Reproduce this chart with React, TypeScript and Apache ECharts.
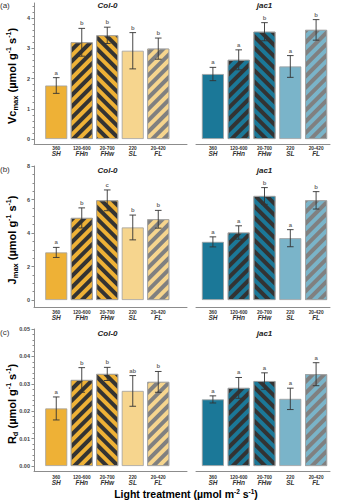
import React, { useEffect, useRef } from 'react';
import * as echarts from 'echarts';

// ---- data ----
const treatments = ['SH', 'FHn', 'FHw', 'SL', 'FL'];
const doses = ['360', '120-600', '20-700', '220', '20-420'];
const genotypes = ['Col-0', 'jac1'];

const vcmaxCol0 = [1.77, 3.2, 3.43, 2.92, 2.99];
const vcmaxCol0Err = [0.26, 0.46, 0.27, 0.6, 0.35];
const vcmaxCol0Sig = ['a', 'b', 'b', 'b', 'b'];
const vcmaxJac1 = [2.15, 2.62, 3.55, 2.4, 3.61];
const vcmaxJac1Err = [0.22, 0.33, 0.3, 0.36, 0.34];
const vcmaxJac1Sig = ['a', 'a', 'b', 'a', 'b'];

const jmaxCol0 = [2.84, 4.9, 5.95, 4.33, 4.82];
const jmaxCol0Err = [0.3, 0.6, 0.62, 0.74, 0.53];
const jmaxCol0Sig = ['a', 'b', 'c', 'b', 'b'];
const jmaxJac1 = [3.47, 4.03, 6.21, 3.69, 5.95];
const jmaxJac1Err = [0.3, 0.4, 0.5, 0.51, 0.52];
const jmaxJac1Sig = ['a', 'a', 'b', 'a', 'b'];

const rdCol0 = [0.021, 0.0314, 0.0336, 0.0274, 0.0307];
const rdCol0Err = [0.0042, 0.0045, 0.0024, 0.0056, 0.0038];
const rdCol0Sig = ['a', 'b', 'b', 'ab', 'b'];
const rdJac1 = [0.0243, 0.0285, 0.031, 0.0245, 0.0335];
const rdJac1Err = [0.0013, 0.0038, 0.003, 0.0039, 0.0042];
const rdJac1Sig = ['a', 'a', 'a', 'a', 'a'];

const vcmaxTicks = [0, 1, 2, 3, 4];
const jmaxTicks = [0, 2, 4, 6, 8];
const rdTicks = [0, 0.01, 0.02, 0.03, 0.04, 0.05];

const FONT = '"Liberation Sans", Arial, sans-serif';
const AXIS_COLOR = '#8c8c8c';
const DARK = '#333333';
const GRAY = '#808080';

const stripe = (color: string, dir: number) => ({
  symbol: 'rect',
  symbolSize: 1,
  color,
  dashArrayX: [1, 0],
  dashArrayY: [3.6, 3.6],
  rotation: (dir * Math.PI) / 4,
});

const palettes = [
  { solid: '#EEB136', light: '#F6D58E' },
  { solid: '#1B7898', light: '#7AB4C9' },
];

// dir -1 => "/" stripes, +1 => "\" stripes
const barStyles = (g: number) => {
  const p = palettes[g];
  return [
    { color: p.solid },
    { color: DARK, decal: stripe(p.solid, -1) },
    { color: DARK, decal: stripe(p.solid, 1) },
    { color: p.light },
    { color: GRAY, decal: stripe(p.light, -1) },
  ];
};

const minorList = (max: number, step: number, majors: number[]) => {
  const out: number[] = [];
  const n = Math.round(max / step);
  for (let i = 1; i <= n; i++) {
    const v = +(i * step).toFixed(6);
    if (!majors.some((m) => Math.abs(m - v) < step / 10)) out.push(v);
  }
  return out;
};

const rows = [
  {
    max: 4.5, majors: vcmaxTicks, minorStep: 0.2, top: 3, height: 136, gap: 5, labelMargin: 6.5,
    fmt: (v: number) => String(v),
    vals: [vcmaxCol0, vcmaxJac1], errs: [vcmaxCol0Err, vcmaxJac1Err], sigs: [vcmaxCol0Sig, vcmaxJac1Sig],
    tag: '(a)', title: '{b|Vc}{s|max}{b| (µmol g}{p|-1}{b| s}{p|-1}{b|)}', titleY: 76,
  },
  {
    max: 8, majors: jmaxTicks, minorStep: 0.5, top: 166, height: 134, gap: 7.5, labelMargin: 9.5,
    fmt: (v: number) => String(v),
    vals: [jmaxCol0, jmaxJac1], errs: [jmaxCol0Err, jmaxJac1Err], sigs: [jmaxCol0Sig, jmaxJac1Sig],
    tag: '(b)', title: '{b|J}{s|max}{b| (µmol g}{p|-1}{b| s}{p|-1}{b|)}', titleY: 240,
  },
  {
    max: 0.05, majors: rdTicks, minorStep: 0.002, top: 329, height: 137, gap: 5, labelMargin: 8.5,
    fmt: (v: number) => v.toFixed(2),
    vals: [rdCol0, rdJac1], errs: [rdCol0Err, rdJac1Err], sigs: [rdCol0Sig, rdJac1Sig],
    tag: '(c)', title: '{b|R}{s|d}{b| (µmol g}{p|-1}{b| s}{p|-1}{b|)}', titleY: 404,
  },
];

const cols = [
  { frameLeft: 34, frameWidth: 153, barLeft: 43.5, barWidth: 127.5, titleX: 107.5 },
  { frameLeft: 196, frameWidth: 134, barLeft: 200, barWidth: 129, titleX: 264.5 },
];

const titleRich = {
  b: { fontSize: 11, fontWeight: 'bold', fontFamily: FONT, color: '#111', lineHeight: 14 },
  s: { fontSize: 7.5, fontWeight: 'bold', fontFamily: FONT, color: '#111', lineHeight: 14, verticalAlign: 'bottom' },
  p: { fontSize: 7, fontWeight: 'bold', fontFamily: FONT, color: '#111', lineHeight: 14, verticalAlign: 'top' },
};

function buildOption() {
  const grid: any[] = [];
  const xAxis: any[] = [];
  const yAxis: any[] = [];
  const series: any[] = [];
  const graphic: any[] = [];

  rows.forEach((row, r) => {
    cols.forEach((col, c) => {
      // frame grid: axis lines
      const fIdx = grid.length;
      grid.push({ left: col.frameLeft, width: col.frameWidth, top: row.top, height: row.height + row.gap, outerBoundsMode: 'none' });
      xAxis.push({
        gridIndex: fIdx, type: 'value', min: 0, max: 1,
        axisLine: { show: true, lineStyle: { color: AXIS_COLOR, width: 1 } },
        axisTick: { show: false }, axisLabel: { show: false }, splitLine: { show: false },
      });
      yAxis.push({
        gridIndex: fIdx, type: 'value', min: 0, max: 1, show: c === 0,
        axisLine: { show: true, lineStyle: { color: AXIS_COLOR, width: 1 } },
        axisTick: { show: false }, axisLabel: { show: false }, splitLine: { show: false },
      });

      // bar grid
      const bIdx = grid.length;
      grid.push({ left: col.barLeft, width: col.barWidth, top: row.top, height: row.height, outerBoundsMode: 'none' });
      const xi = xAxis.length;
      xAxis.push({
        gridIndex: bIdx, type: 'category', data: treatments,
        axisLine: { show: false }, axisTick: { show: false },
        axisLabel: {
          interval: 0, margin: row.labelMargin, verticalAlign: 'top',
          formatter: (v: string, i: number) => `{d|${doses[i]}}\n{t|${v}}`,
          rich: {
            d: { fontSize: 4.8, lineHeight: 5, fontWeight: 'bold', fontFamily: FONT, color: '#333' },
            t: { fontSize: 6.5, lineHeight: 5.5, fontWeight: 'bold', fontStyle: 'italic', fontFamily: FONT, color: '#333' },
          },
        },
      });
      const yi = yAxis.length;
      const off = col.barLeft - cols[0].frameLeft;
      yAxis.push({
        gridIndex: bIdx, type: 'value', min: 0, max: row.max, position: 'left', offset: off, show: c === 0,
        axisLine: { show: false },
        axisTick: { show: true, length: 2.5, customValues: row.majors, lineStyle: { color: AXIS_COLOR } },
        axisLabel: { customValues: row.majors, formatter: row.fmt, fontSize: 5.5, fontWeight: 'bold', fontFamily: FONT, color: '#444', margin: 4 },
        splitLine: { show: false },
      });
      yAxis.push({
        gridIndex: bIdx, type: 'value', min: 0, max: row.max, position: 'left', offset: off, show: c === 0,
        axisLine: { show: false },
        axisTick: { show: true, length: 1.5, customValues: minorList(row.max, row.minorStep, row.majors), lineStyle: { color: AXIS_COLOR } },
        axisLabel: { show: false },
        splitLine: { show: false },
      });

      const styles = barStyles(c);
      const vals = row.vals[c];
      const errs = row.errs[c];
      const sigs = row.sigs[c];
      series.push({
        type: 'bar', xAxisIndex: xi, yAxisIndex: yi, barWidth: 22, silent: true,
        data: vals.map((v, i) => ({
          value: v,
          itemStyle: { ...styles[i], borderColor: '#a0a0a0', borderWidth: 0.8 },
        })),
      });
      series.push({
        type: 'custom', xAxisIndex: xi, yAxisIndex: yi, z: 5, silent: true,
        data: vals.map((v, i) => [i, v, errs[i]]),
        renderItem: (params: any, api: any) => {
          const x = api.value(0);
          const m = api.value(1);
          const e = api.value(2);
          const t = api.coord([x, m + e]);
          const b = api.coord([x, m - e]);
          const hw = 3.3;
          const st = { stroke: '#333', lineWidth: 0.9, fill: 'none' };
          return {
            type: 'group',
            children: [
              { type: 'line', shape: { x1: t[0], y1: t[1], x2: b[0], y2: b[1] }, style: st },
              { type: 'line', shape: { x1: t[0] - hw, y1: t[1], x2: t[0] + hw, y2: t[1] }, style: st },
              { type: 'line', shape: { x1: b[0] - hw, y1: b[1], x2: b[0] + hw, y2: b[1] }, style: st },
            ],
          };
        },
      });
      series.push({
        type: 'scatter', xAxisIndex: xi, yAxisIndex: yi, z: 6, silent: true,
        symbol: 'circle', symbolSize: 0.1, itemStyle: { color: 'rgba(0,0,0,0)' },
        data: vals.map((v, i) => [i, v + errs[i]]),
        label: {
          show: true, position: 'top', distance: 2,
          formatter: (p: any) => sigs[p.dataIndex],
          fontSize: 6, fontWeight: 'bold', fontFamily: FONT, color: '#444',
        },
      });

      graphic.push({
        type: 'text', x: col.titleX, y: row.top + (r === 0 ? 2 : 4),
        style: { text: genotypes[c], fontSize: 8, fontWeight: 'bold', fontStyle: 'italic', fontFamily: FONT, fill: '#222', align: 'center', verticalAlign: 'middle' },
      });
    });

    graphic.push({
      type: 'text', x: 0, y: row.top + (r === 0 ? 2 : 3),
      style: { text: row.tag, fontSize: 8, fontFamily: FONT, fill: '#333', align: 'left', verticalAlign: 'middle' },
    });
    graphic.push({
      type: 'text', x: 12, y: row.titleY, rotation: Math.PI / 2,
      style: { text: row.title, rich: titleRich, align: 'center', verticalAlign: 'middle' },
    });
  });

  graphic.push({
    type: 'text', x: 186, y: 494,
    style: {
      text: '{b|Light treatment (µmol m}{p|-2}{b| s}{p|-1}{b|)}',
      rich: {
        b: { fontSize: 10.5, fontWeight: 'bold', fontFamily: FONT, color: '#111', lineHeight: 13 },
        p: { fontSize: 6.5, fontWeight: 'bold', fontFamily: FONT, color: '#111', lineHeight: 13, verticalAlign: 'top' },
      },
      align: 'center', verticalAlign: 'middle',
    },
  });

  return { animation: false, backgroundColor: '#ffffff', grid, xAxis, yAxis, series, graphic };
}

export default function App() {
  const ref = useRef<HTMLDivElement>(null);
  useEffect(() => {
    if (!ref.current) return;
    const chart = echarts.init(ref.current, null, { renderer: 'svg' });
    chart.setOption(buildOption() as any);
    return () => chart.dispose();
  }, []);
  return <div ref={ref} style={{ width: 340, height: 500, position: 'absolute', left: 0, top: 0 }} />;
}
